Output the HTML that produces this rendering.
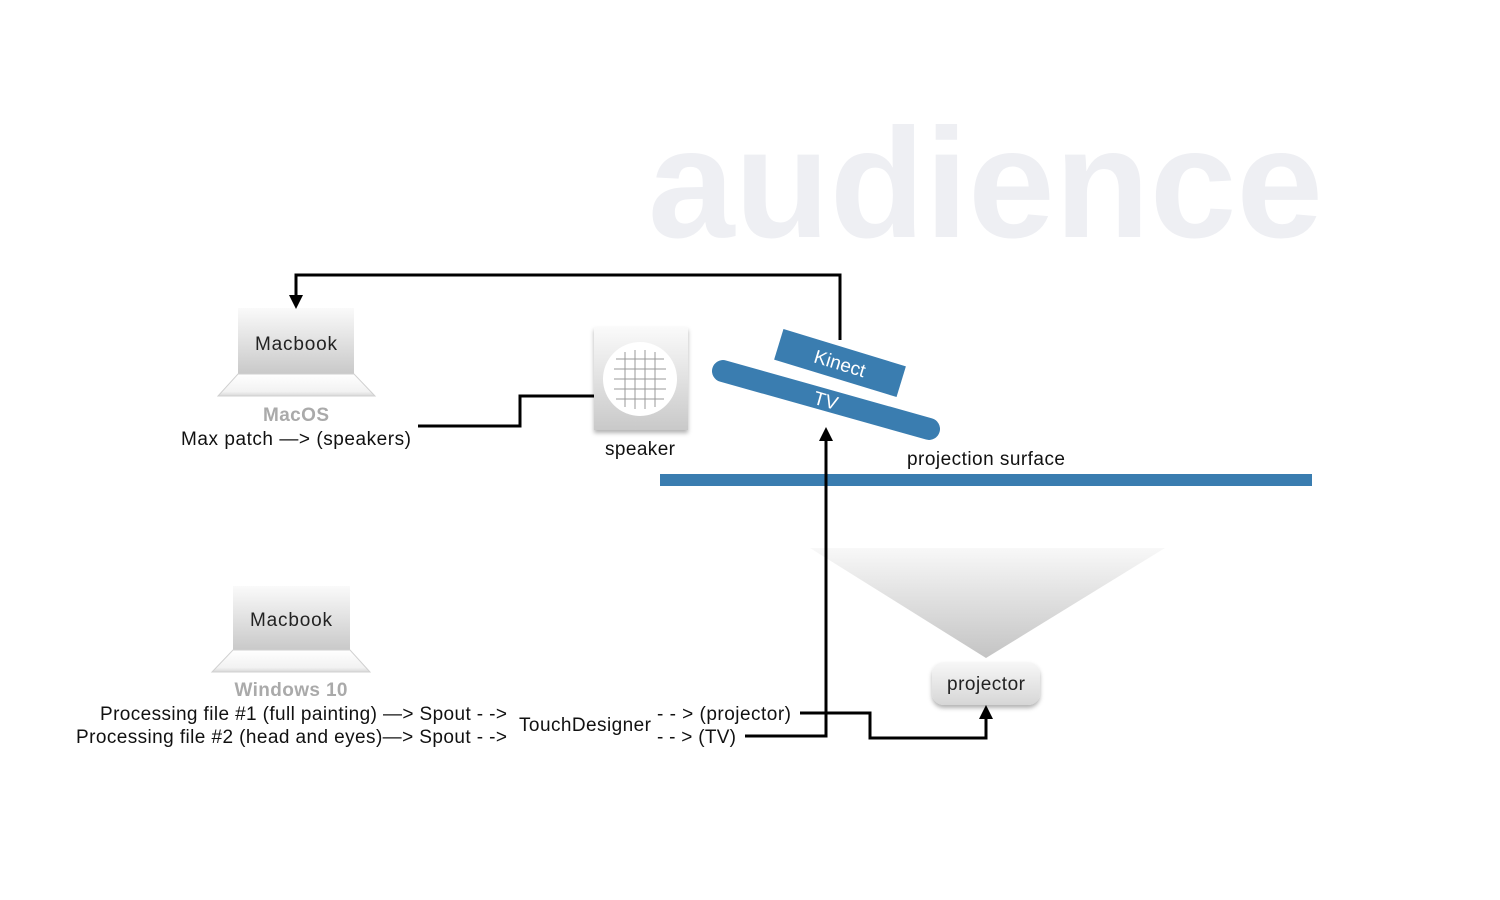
<!DOCTYPE html>
<html><head><meta charset="utf-8"><style>
html,body{margin:0;padding:0;background:#fff;width:1500px;height:900px;overflow:hidden}
svg text{font-family:"Liberation Sans",sans-serif}
</style></head><body>
<svg width="1500" height="900" viewBox="0 0 1500 900" xmlns="http://www.w3.org/2000/svg">
<defs>
<linearGradient id="scr" x1="0" y1="0" x2="0" y2="1"><stop offset="0" stop-color="#fafafa"/><stop offset="1" stop-color="#c9c9c9"/></linearGradient>
<linearGradient id="base" x1="0" y1="0" x2="0" y2="1"><stop offset="0" stop-color="#ffffff"/><stop offset="0.8" stop-color="#f2f2f2"/><stop offset="1" stop-color="#d8d8d8"/></linearGradient>
<linearGradient id="beam" x1="0" y1="0" x2="0" y2="1"><stop offset="0" stop-color="#f8f8f8"/><stop offset="1" stop-color="#c4c4c4"/></linearGradient>
<linearGradient id="proj" x1="0" y1="0" x2="0" y2="1"><stop offset="0" stop-color="#f7f7f7"/><stop offset="1" stop-color="#d6d6d6"/></linearGradient>
<filter id="sh" x="-20%" y="-20%" width="140%" height="150%"><feDropShadow dx="0" dy="3" stdDeviation="2" flood-color="#000" flood-opacity="0.3"/></filter>
</defs>

<text x="648" y="237" font-size="156" font-weight="bold" fill="#eeeff3" textLength="675" lengthAdjust="spacingAndGlyphs">audience</text>

<!-- Macbook 1 -->
<rect x="238" y="308" width="116" height="66" fill="url(#scr)"/>
<polygon points="238,374 354,374 375,396 218,396" fill="url(#base)" stroke="#d0d0d0" stroke-width="1"/>
<text x="296" y="350" font-size="19" text-anchor="middle" fill="#222" textLength="82">Macbook</text>
<text x="296" y="421" font-size="19" font-weight="bold" text-anchor="middle" fill="#aaa" textLength="66">MacOS</text>
<text x="181" y="445" font-size="19" fill="#111" textLength="230">Max patch —&gt; (speakers)</text>

<!-- speaker -->
<rect x="594" y="327" width="94" height="103" fill="url(#scr)" filter="url(#sh)"/>
<circle cx="640" cy="379" r="37" fill="#fff"/>
<g stroke="#999" stroke-width="1">
<line x1="616" y1="359" x2="664" y2="359"/><line x1="614" y1="369" x2="666" y2="369"/><line x1="614" y1="379" x2="666" y2="379"/><line x1="614" y1="389" x2="666" y2="389"/><line x1="616" y1="399" x2="664" y2="399"/>
<line x1="625" y1="352" x2="625" y2="407"/><line x1="635" y1="350" x2="635" y2="409"/><line x1="645" y1="350" x2="645" y2="409"/><line x1="655" y1="352" x2="655" y2="407"/>
</g>
<text x="640" y="455" font-size="19" text-anchor="middle" fill="#111" textLength="70">speaker</text>

<!-- TV and Kinect -->
<g transform="translate(826,400) rotate(15.7)">
<rect x="-118" y="-11" width="236" height="22" rx="11" fill="#3a7db0"/>
<text x="0" y="7" font-size="19" text-anchor="middle" fill="#fff">TV</text>
</g>
<g transform="translate(840,363) rotate(17)">
<rect x="-64" y="-16" width="128" height="32" fill="#3a7db0"/>
<text x="0" y="7" font-size="19" text-anchor="middle" fill="#fff">Kinect</text>
</g>

<!-- projection surface -->
<rect x="660" y="474" width="652" height="12" fill="#3a7db0"/>
<text x="907" y="465" font-size="19" fill="#111" textLength="158">projection surface</text>

<!-- beam -->
<polygon points="810,548 1165,548 986,658" fill="url(#beam)"/>
<rect x="932" y="662" width="108" height="43" rx="12" fill="url(#proj)" filter="url(#sh)"/>
<text x="986" y="690" font-size="19" text-anchor="middle" fill="#222" textLength="78">projector</text>

<!-- Macbook 2 -->
<rect x="233" y="586" width="117" height="64" fill="url(#scr)"/>
<polygon points="233,650 350,650 370,672 212,672" fill="url(#base)" stroke="#d0d0d0" stroke-width="1"/>
<text x="291" y="626" font-size="19" text-anchor="middle" fill="#222" textLength="82">Macbook</text>
<text x="291" y="696" font-size="19" font-weight="bold" text-anchor="middle" fill="#aaa" textLength="113">Windows 10</text>
<text x="100" y="720" font-size="19" fill="#111" textLength="407">Processing file #1 (full painting) —&gt; Spout - -&gt;</text>
<text x="76" y="743" font-size="19" fill="#111" textLength="431">Processing file #2 (head and eyes)—&gt; Spout - -&gt;</text>
<text x="519" y="731" font-size="19" fill="#111" textLength="132">TouchDesigner</text>
<text x="657" y="720" font-size="19" fill="#111" textLength="134">- - &gt; (projector)</text>
<text x="657" y="743" font-size="19" fill="#111" textLength="79">- - &gt; (TV)</text>

<!-- connectors -->
<g fill="none" stroke="#000" stroke-width="3">
<polyline points="418,426 520,426 520,396 594,396"/>
<polyline points="840,340 840,275 296,275 296,296"/>
<polyline points="800,713 870,713 870,738 986,738 986,718"/>
<polyline points="745,736 826,736 826,440"/>
</g>
<polygon points="289,295 303,295 296,309" fill="#000"/>
<polygon points="979,719 993,719 986,705" fill="#000"/>
<polygon points="819,441 833,441 826,427" fill="#000"/>
</svg>
</body></html>
